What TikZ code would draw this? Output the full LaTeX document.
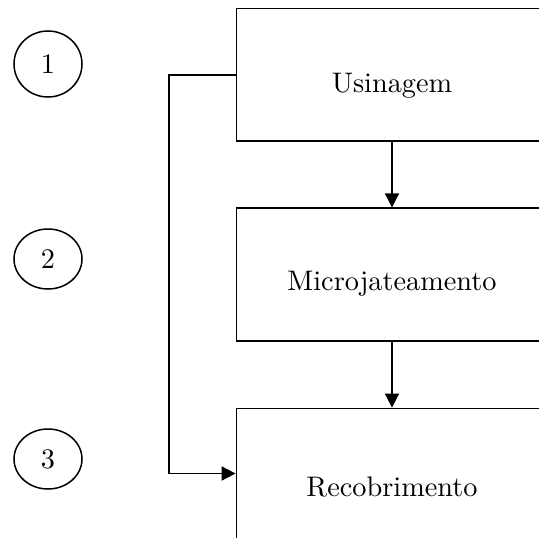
\documentclass[tikz,border=0pt]{standalone}
\usepackage{fontspec}
\setmainfont{lmroman10-regular.otf}
\usetikzlibrary{shapes.geometric,arrows.meta}
\begin{document}
\begin{tikzpicture}[x=1pt,y=-1pt,
  box/.style={draw,line width=1.8pt,minimum width=311pt,inner sep=0pt},
  num/.style={draw,ellipse,line width=1.5pt,minimum width=68pt,inner sep=0pt},
  txt/.style={font=\fontsize{28.3}{34}\selectfont},
  conn/.style={line width=1.8pt,-{Triangle[length=14pt,width=14pt]}}]
\useasboundingbox (0,0) rectangle (539,538);
\clip (0,0) rectangle (539,538);
\node[box,minimum height=132.5pt,label={[txt,yshift=-11pt]center:Usinagem}] (b1) at (392,74.75) {};
\node[box,minimum height=132.4pt,label={[txt,yshift=-9pt]center:Microjateamento}] (b2) at (392,274.5) {};
\node[box,minimum height=130pt,label={[txt,yshift=-13pt]center:Recobrimento}] (b3) at (392,473.5) {};
\node[num,minimum height=66pt,txt] (c1) at (48,64) {1};
\node[num,minimum height=60pt,txt] (c2) at (48,259) {2};
\node[num,minimum height=60pt,txt] (c3) at (48,459) {3};
\draw[conn] (b1.south) -- (b2.north);
\draw[conn] (b2.south) -- (b3.north);
\draw[conn] (b1.west) -- ++(-66.5,0) |- (b3.west);
\end{tikzpicture}
\end{document}
